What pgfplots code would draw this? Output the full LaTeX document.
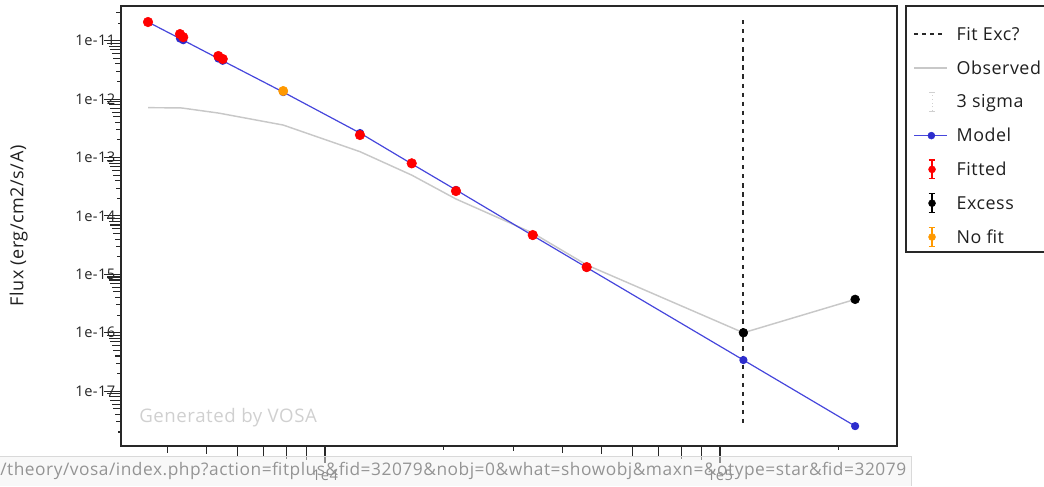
\documentclass[border=0pt]{standalone}
\usepackage{fontspec}
\setmainfont{Open Sans}[LetterSpace=3]
\usepackage{pgfplots}
\pgfplotsset{compat=1.18}
\definecolor{modelline}{RGB}{70,70,220}
\definecolor{modeldot}{RGB}{45,45,205}
\definecolor{obsgray}{RGB}{200,200,200}
\definecolor{nofit}{RGB}{255,153,0}
\definecolor{wmark}{RGB}{208,208,208}
\definecolor{frame}{RGB}{40,40,40}
\pgfplotsset{ebar/.style={legend image code/.code={
  \draw[#1, line width=0.9pt] (13.5pt,-7pt) -- (13.5pt,7pt);
  \draw[#1, line width=0.9pt] (11pt,-7pt) -- (16pt,-7pt) (11pt,7pt) -- (16pt,7pt);
  \fill[#1] (13.5pt,0pt) circle (2.6pt);
}}}
\begin{document}
\begin{tikzpicture}
\useasboundingbox (0,0) rectangle (783pt,364.5pt);
\begin{axis}[
  at={(90.75pt,30pt)}, anchor=south west,
  width=582pt, height=330pt, scale only axis,
  xmode=log, ymode=log,
  xmin=3046, xmax=280600, ymin=1.15e-18, ymax=3.93e-11,
  clip=false,
  axis line style={frame, line width=1.1pt},
  tick align=outside, xtick pos=bottom, ytick pos=left,
  major tick length=12.75pt,
  tick style={frame, line width=0.8pt},
  minor xtick={}, minor ytick={},
  xtick={1e4,1e5}, xticklabels={1e4,1e5},
  ytick={1e-17,1e-16,1e-15,1e-14,1e-13,1e-12,1e-11},
  yticklabels={1e-17,1e-16,1e-15,1e-14,1e-13,1e-12,1e-11},
  ticklabel style={font=\fontsize{11}{13}\selectfont, text=black!85},
  yticklabel style={xshift=12pt},
  xticklabel style={yshift=-1.5pt},
  ylabel={Flux (erg/cm2/s/A)},
  ylabel style={at={(axis description cs:-0.132,0.5)}, anchor=center, font=\fontsize{13.5}{15}\selectfont, text=black!88},
  legend cell align=left,
  legend style={at={(1,1)}, anchor=north west, xshift=12pt, yshift=-12.45pt,
    draw=none, fill=none, inner sep=0pt, row sep=8.35pt, column sep=6.4pt,
    nodes={inner sep=0pt, text height=13pt, text depth=4pt, font=\fontsize{13.4}{16}\selectfont, text=black!88}},
]
\addlegendimage{legend image code/.code={\draw[frame, line width=1.1pt, dash pattern=on 3pt off 3pt] (0pt,0pt) -- (24pt,0pt);}}
\addlegendentry{Fit Exc?}
\addlegendimage{legend image code/.code={\draw[obsgray, line width=1.1pt] (0pt,0pt) -- (25pt,0pt);}}
\addlegendentry{Observed}
\addlegendimage{legend image code/.code={\draw[wmark,line width=0.8pt] (11.5pt,7pt) -- (15.5pt,7pt) (11.5pt,-7pt) -- (15.5pt,-7pt); \draw[wmark, line width=0.8pt, dotted] (13.5pt,-7pt) -- (13.5pt,7pt);}}
\addlegendentry{3 sigma}
\addlegendimage{legend image code/.code={\draw[modelline, line width=0.9pt] (0pt,0pt) -- (25pt,0pt); \fill[modeldot] (13pt,0pt) circle (2.6pt);}}
\addlegendentry{Model}
\addlegendimage{ebar=red}
\addlegendentry{Fitted}
\addlegendimage{ebar=black}
\addlegendentry{Excess}
\addlegendimage{ebar=nofit}
\addlegendentry{No fit}

% minor ticks (fan)
\foreach \e in {-18,...,-12}{
  \foreach \m in {2,...,9}{
    \pgfmathsetmacro\L{1.125*\m+0.375}
    \edef\temp{\noexpand\draw[frame, line width=0.8pt] ({rel axis cs:0,0} |- {axis cs:1e4,\m e\e}) -- ++(-\L pt,0pt);}
    \temp
  }
}
\foreach \m in {2,3}{
  \pgfmathsetmacro\L{1.125*\m+0.375}
  \edef\temp{\noexpand\draw[frame, line width=0.8pt] ({rel axis cs:0,0} |- {axis cs:1e4,\m e-11}) -- ++(-\L pt,0pt);}
  \temp
}
\foreach \m in {4,...,9}{
  \pgfmathsetmacro\L{1.125*\m+0.375}
  \edef\temp{\noexpand\draw[frame, line width=0.8pt] ({axis cs:\m e3,1e-15} |- {rel axis cs:0,0}) -- ++(0pt,-\L pt);}
  \temp
}
\foreach \m in {2,...,9}{
  \pgfmathsetmacro\L{1.125*\m+0.375}
  \edef\temp{\noexpand\draw[frame, line width=0.8pt] ({axis cs:\m e4,1e-15} |- {rel axis cs:0,0}) -- ++(0pt,-\L pt);}
  \temp
}
\draw[frame, line width=0.8pt] ({axis cs:2e5,1e-15} |- {rel axis cs:0,0}) -- ++(0pt,-2.625pt);

\node[text=wmark, font=\fontsize{14}{16}\selectfont] at (rel axis cs:0.138,0.0636) {Generated by VOSA};

% Observed
\addplot[obsgray, line width=1.1pt, forget plot] coordinates {
(3565,7.13e-13) (4295,7.1e-13) (4377,7.0e-13) (5370,5.78e-13) (5510,5.6e-13)
(7840,3.6e-13) (12263,1.26e-13) (16580,5.0e-14) (21460,1.95e-14)
(33570,5.1e-15) (45970,1.45e-15) (114600,1.0e-16) (219800,3.73e-16)};
% Model
\addplot[modelline, line width=0.9pt, mark=*, mark size=2.6pt, mark options={fill=modeldot, draw=modeldot}, forget plot] coordinates {
(3565,2.09e-11) (4295,1.09e-11) (4377,1.02e-11) (5370,4.96e-12) (5510,4.53e-12)
(7840,1.32e-12) (12263,2.63e-13) (16580,7.80e-14) (21460,2.79e-14)
(33570,4.61e-15) (45970,1.31e-15) (114600,3.41e-17) (219800,2.52e-18)};
% Fit excess line
\addplot[frame, line width=1.4pt, dash pattern=on 3.2pt off 3.6pt, forget plot] coordinates {(114600,2.26e-11) (114600,2.56e-18)};
% Fitted
\addplot[only marks, mark=*, mark size=3.6pt, mark options={fill=red, draw=red}, forget plot] coordinates {
(3565,2.09e-11) (4295,1.30e-11) (4377,1.15e-11) (5370,5.47e-12) (5510,4.87e-12)
(12263,2.43e-13) (16580,7.96e-14) (21460,2.67e-14) (33570,4.71e-15) (45970,1.33e-15)};
% No fit
\addplot[only marks, mark=*, mark size=3.5pt, mark options={fill=nofit, draw=nofit}, forget plot] coordinates {(7840,1.38e-12)};
% Excess
\addplot[only marks, mark=*, mark size=3.3pt, mark options={fill=black, draw=black}, forget plot] coordinates {(114600,1.0e-16) (219800,3.73e-16)};
\end{axis}
% legend frame
\draw[frame, line width=1.1pt] (679.5pt,360pt) rectangle (800pt,175.5pt);
% status bar
\fill[black!5, fill opacity=0.5] (0pt,0pt) rectangle (683.25pt,22.5pt);
\draw[black!15] (0pt,22.5pt) -- (683.25pt,22.5pt) -- (683.25pt,0pt);
\node[anchor=base west, inner sep=0pt, text=black!42, font=\fontsize{13}{15}\selectfont] at (0pt,8.25pt) {/theory/vosa/index.php?action=fitplus\&fid=32079\&nobj=0\&what=showobj\&maxn=\&otype=star\&fid=32079};
\end{tikzpicture}
\end{document}
